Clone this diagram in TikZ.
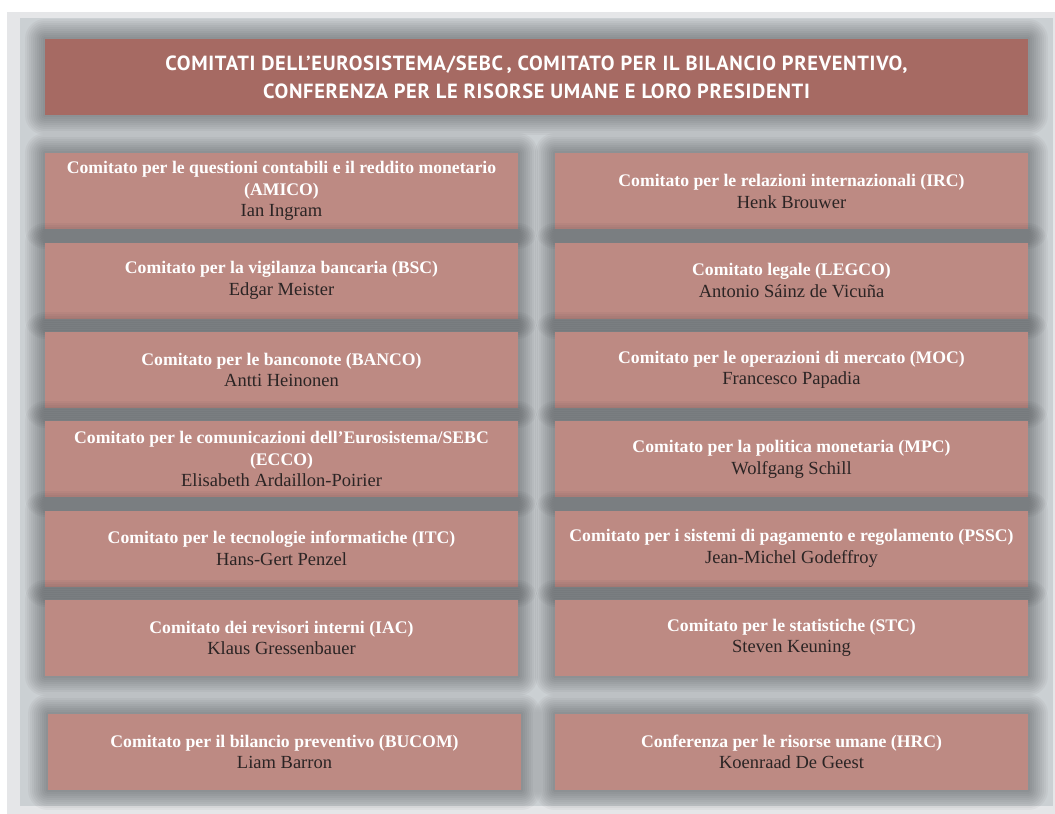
\documentclass[tikz,border=0pt]{standalone}
\usepackage{fontspec}
\setmainfont{Liberation Serif}
\newfontfamily\titlefont[LetterSpace=3.4]{PT Sans}
\definecolor{outerbg}{HTML}{E5E6E8}
\definecolor{panelbg}{HTML}{CBD0D3}
\definecolor{titlefill}{HTML}{A66A63}
\definecolor{boxfill}{HTML}{BD8A83}
\definecolor{namec}{HTML}{2B2424}
\definecolor{shc}{HTML}{1A1D20}
\tikzset{
  halo/.style={
    preaction={draw=shc,draw opacity=0.038,line width=40pt,line join=round},
    preaction={draw=shc,draw opacity=0.038,line width=36pt,line join=round},
    preaction={draw=shc,draw opacity=0.038,line width=32pt,line join=round},
    preaction={draw=shc,draw opacity=0.038,line width=28pt,line join=round},
    preaction={draw=shc,draw opacity=0.038,line width=24pt,line join=round},
    preaction={draw=shc,draw opacity=0.038,line width=20pt,line join=round},
    preaction={draw=shc,draw opacity=0.038,line width=16pt,line join=round},
    preaction={draw=shc,draw opacity=0.038,line width=12pt,line join=round},
    preaction={draw=shc,draw opacity=0.038,line width=8pt,line join=round},
    preaction={draw=shc,draw opacity=0.038,line width=4pt,line join=round}},
  titlebox/.style={halo,fill=titlefill,minimum width=983pt,minimum height=76pt,
    inner sep=0pt,align=center,text=white,font=\titlefont\bfseries\fontsize{20.5}{28}\selectfont},
  combox/.style={halo,fill=boxfill,minimum width=473pt,minimum height=76pt,
    inner sep=0pt,align=center,font=\fontsize{17.7}{21.5}\selectfont},
}
\newcommand{\cname}[1]{\textcolor{white}{\bfseries #1}}
\newcommand{\pname}[1]{\textcolor{namec}{\fontsize{18.5}{21.5}\selectfont #1}}
\begin{document}
\begin{tikzpicture}[x=1pt,y=-1pt]
\useasboundingbox (0,0) rectangle (1055,814);
\fill[outerbg] (7,12) rectangle (1055,814);
\fill[panelbg] (20,18) rectangle (1053,806);
\node[titlebox] (title) at (536.5,77) {COMITATI DELL’EUROSISTEMA/SEBC\,, COMITATO PER IL BILANCIO PREVENTIVO,\\CONFERENZA PER LE RISORSE UMANE E LORO PRESIDENTI};
\node[combox] (amico) at (281.5,191.3) {\cname{Comitato per le questioni contabili e il reddito monetario}\\\cname{(AMICO)}\\\pname{Ian Ingram}};
\node[combox] (irc) at (791.5,191.3) {\cname{Comitato per le relazioni internazionali (IRC)}\\\pname{Henk Brouwer}};
\node[combox] (bsc) at (281.5,280.6) {\cname{Comitato per la vigilanza bancaria (BSC)}\\\pname{Edgar Meister}};
\node[combox] (legco) at (791.5,280.6) {\cname{Comitato legale (LEGCO)}\\\pname{Antonio Sáinz de Vicuña}};
\node[combox] (banco) at (281.5,369.9) {\cname{Comitato per le banconote (BANCO)}\\\pname{Antti Heinonen}};
\node[combox] (moc) at (791.5,369.9) {\cname{Comitato per le operazioni di mercato (MOC)}\\\pname{Francesco Papadia}};
\node[combox] (ecco) at (281.5,459.2) {\cname{Comitato per le comunicazioni dell’Eurosistema/SEBC}\\\cname{(ECCO)}\\\pname{Elisabeth Ardaillon-Poirier}};
\node[combox] (mpc) at (791.5,459.2) {\cname{Comitato per la politica monetaria (MPC)}\\\pname{Wolfgang Schill}};
\node[combox] (itc) at (281.5,548.5) {\cname{Comitato per le tecnologie informatiche (ITC)}\\\pname{Hans-Gert Penzel}};
\node[combox] (pssc) at (791.5,548.5) {\cname{Comitato per i sistemi di pagamento e regolamento (PSSC)}\\\pname{Jean-Michel Godeffroy}};
\node[combox] (iac) at (281.5,637.8) {\cname{Comitato dei revisori interni (IAC)}\\\pname{Klaus Gressenbauer}};
\node[combox] (stc) at (791.5,637.8) {\cname{Comitato per le statistiche (STC)}\\\pname{Steven Keuning}};
\node[combox] (bucom) at (284.5,752) {\cname{Comitato per il bilancio preventivo (BUCOM)}\\\pname{Liam Barron}};
\node[combox] (hrc) at (791.5,752) {\cname{Conferenza per le risorse umane (HRC)}\\\pname{Koenraad De Geest}};
\end{tikzpicture}
\end{document}
